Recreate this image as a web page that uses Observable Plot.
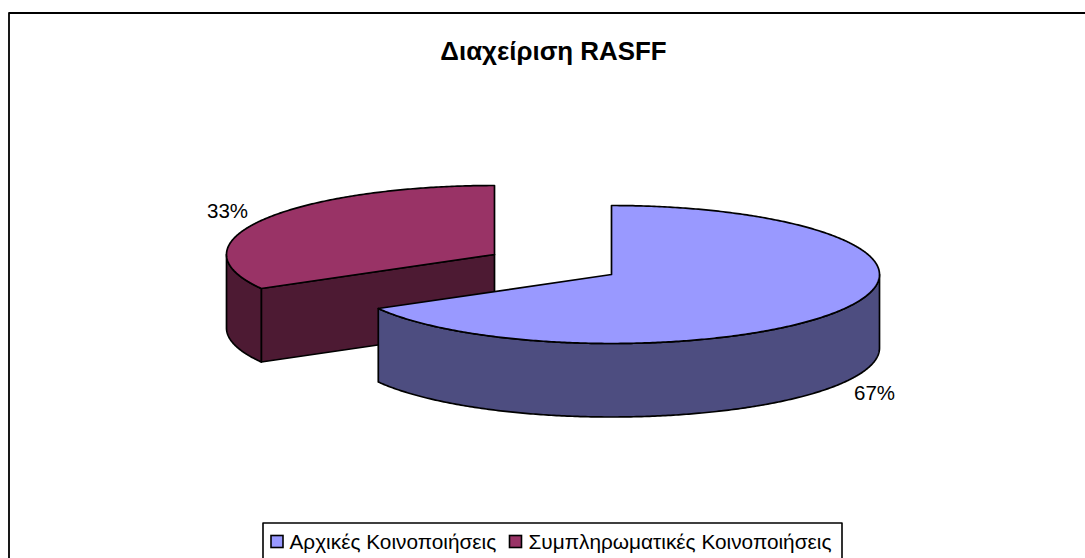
<!DOCTYPE html>
<html lang="el">
<head>
<meta charset="utf-8">
<style>html,body{margin:0;padding:0;background:#fff}svg{display:block}</style>
<script src="https://cdn.jsdelivr.net/npm/d3@7"></script>
<script src="https://cdn.jsdelivr.net/npm/@observablehq/plot@0.6"></script>
</head>
<body>
<div id="chart"></div>
<script>
const chartTitle = "Διαχείριση RASFF";
const categories = ["Αρχικές Κοινοποιήσεις", "Συμπληρωματικές Κοινοποιήσεις"];
const shares = [66.8, 33.2];
const topColors = ["#9999FF", "#993366"];
const sideColors = ["#4D4D80", "#4D1A33"];

const W = 1085, H = 558, FONT = "'Liberation Sans', Arial, sans-serif";
const RX = 268, RY = 69, DEPTH = 73.5;
const centers = [[611, 274], [494, 254]];
const labelAnchors = [[874, 393], [227, 211]];
const STROKE = 1.7;

// Turn a share of the circle into ellipse points (clockwise from north).
const pt = (c, a, dz = 0) => ({x: c[0] + RX * Math.sin(a), y: c[1] - RY * Math.cos(a) + dz});
const arc = (c, a0, a1, dz = 0) => {
  const n = Math.max(2, Math.ceil(Math.abs(a1 - a0) / 0.01));
  return d3.range(n + 1).map(i => pt(c, a0 + (a1 - a0) * i / n, dz));
};
const total = d3.sum(shares);
const TAU = 2 * Math.PI;
const a0 = shares[0] / total * TAU;

// Slice 2 (drawn first, sits behind slice 1)
const c1 = centers[1], c0 = centers[0];
const cutFace = [pt(c1, a0), {x: c1[0], y: c1[1]}, {x: c1[0], y: c1[1] + DEPTH}, pt(c1, a0, DEPTH), pt(c1, a0)];
const leftWall = [...arc(c1, a0, 1.5 * Math.PI), ...arc(c1, 1.5 * Math.PI, a0, DEPTH), pt(c1, a0)];
const redTop = [{x: c1[0], y: c1[1]}, ...arc(c1, a0, TAU), {x: c1[0], y: c1[1]}];
// Slice 1
const blueWall = [...arc(c0, Math.PI / 2, a0), ...arc(c0, a0, Math.PI / 2, DEPTH), pt(c0, Math.PI / 2)];
const blueTop = [{x: c0[0], y: c0[1]}, ...arc(c0, 0, a0), {x: c0[0], y: c0[1]}];

const poly = (pts, fill) => Plot.line(pts, {
  x: "x", y: "y", fill, stroke: "#000", strokeWidth: STROKE, curve: "linear", strokeLinejoin: "round"
});

// Frame lines and legend, in page pixels
const border = [{x: 8.5, y: H + 5}, {x: 8.5, y: 12.5}, {x: W + 5, y: 12.5}];
const LEG = {x1: 262.5, x2: 841.5, y1: 522.5, y2: H + 5, textY: 541.5};
const legendBox = [{x: LEG.x1, y: LEG.y2}, {x: LEG.x1, y: LEG.y1}, {x: LEG.x2, y: LEG.y1}, {x: LEG.x2, y: LEG.y2}];
const swatches = [271, 509.5];
const legendText = [289, 528];

const chart = Plot.plot({
  width: W, height: H,
  margin: 0,
  x: {domain: [0, W], range: [0, W], axis: null},
  y: {domain: [0, H], range: [0, H], axis: null},
  marks: [
    Plot.line(border, {x: "x", y: "y", stroke: "#000", strokeWidth: 1.8}),
    poly(cutFace, sideColors[1]),
    poly(leftWall, sideColors[1]),
    poly(redTop, topColors[1]),
    poly(blueWall, sideColors[0]),
    poly(blueTop, topColors[0]),
    Plot.text(shares, {
      x: (d, i) => labelAnchors[i][0], y: (d, i) => labelAnchors[i][1],
      text: d => Math.round(d) + "%", fontSize: 20.5, fontFamily: FONT, fill: "#000", textAnchor: "middle"
    }),
    Plot.text([chartTitle], {
      x: [553], y: [51], text: d => d, fontSize: 25.9, fontWeight: "bold", fontFamily: FONT, fill: "#000", textAnchor: "middle"
    }),
    Plot.line(legendBox, {x: "x", y: "y", stroke: "#000", strokeWidth: 1.6}),
    Plot.rect(categories, {
      x1: (d, i) => swatches[i], x2: (d, i) => swatches[i] + 12,
      y1: [535.5, 535.5], y2: [547.5, 547.5],
      fill: topColors, stroke: "#000", strokeWidth: 1.6
    }),
    Plot.text(categories, {
      x: (d, i) => legendText[i], y: [LEG.textY, LEG.textY], text: d => d,
      fontSize: 20.8, fontFamily: FONT, fill: "#000", textAnchor: "start"
    })
  ]
});
document.getElementById("chart").append(chart);
</script>
</body>
</html>
